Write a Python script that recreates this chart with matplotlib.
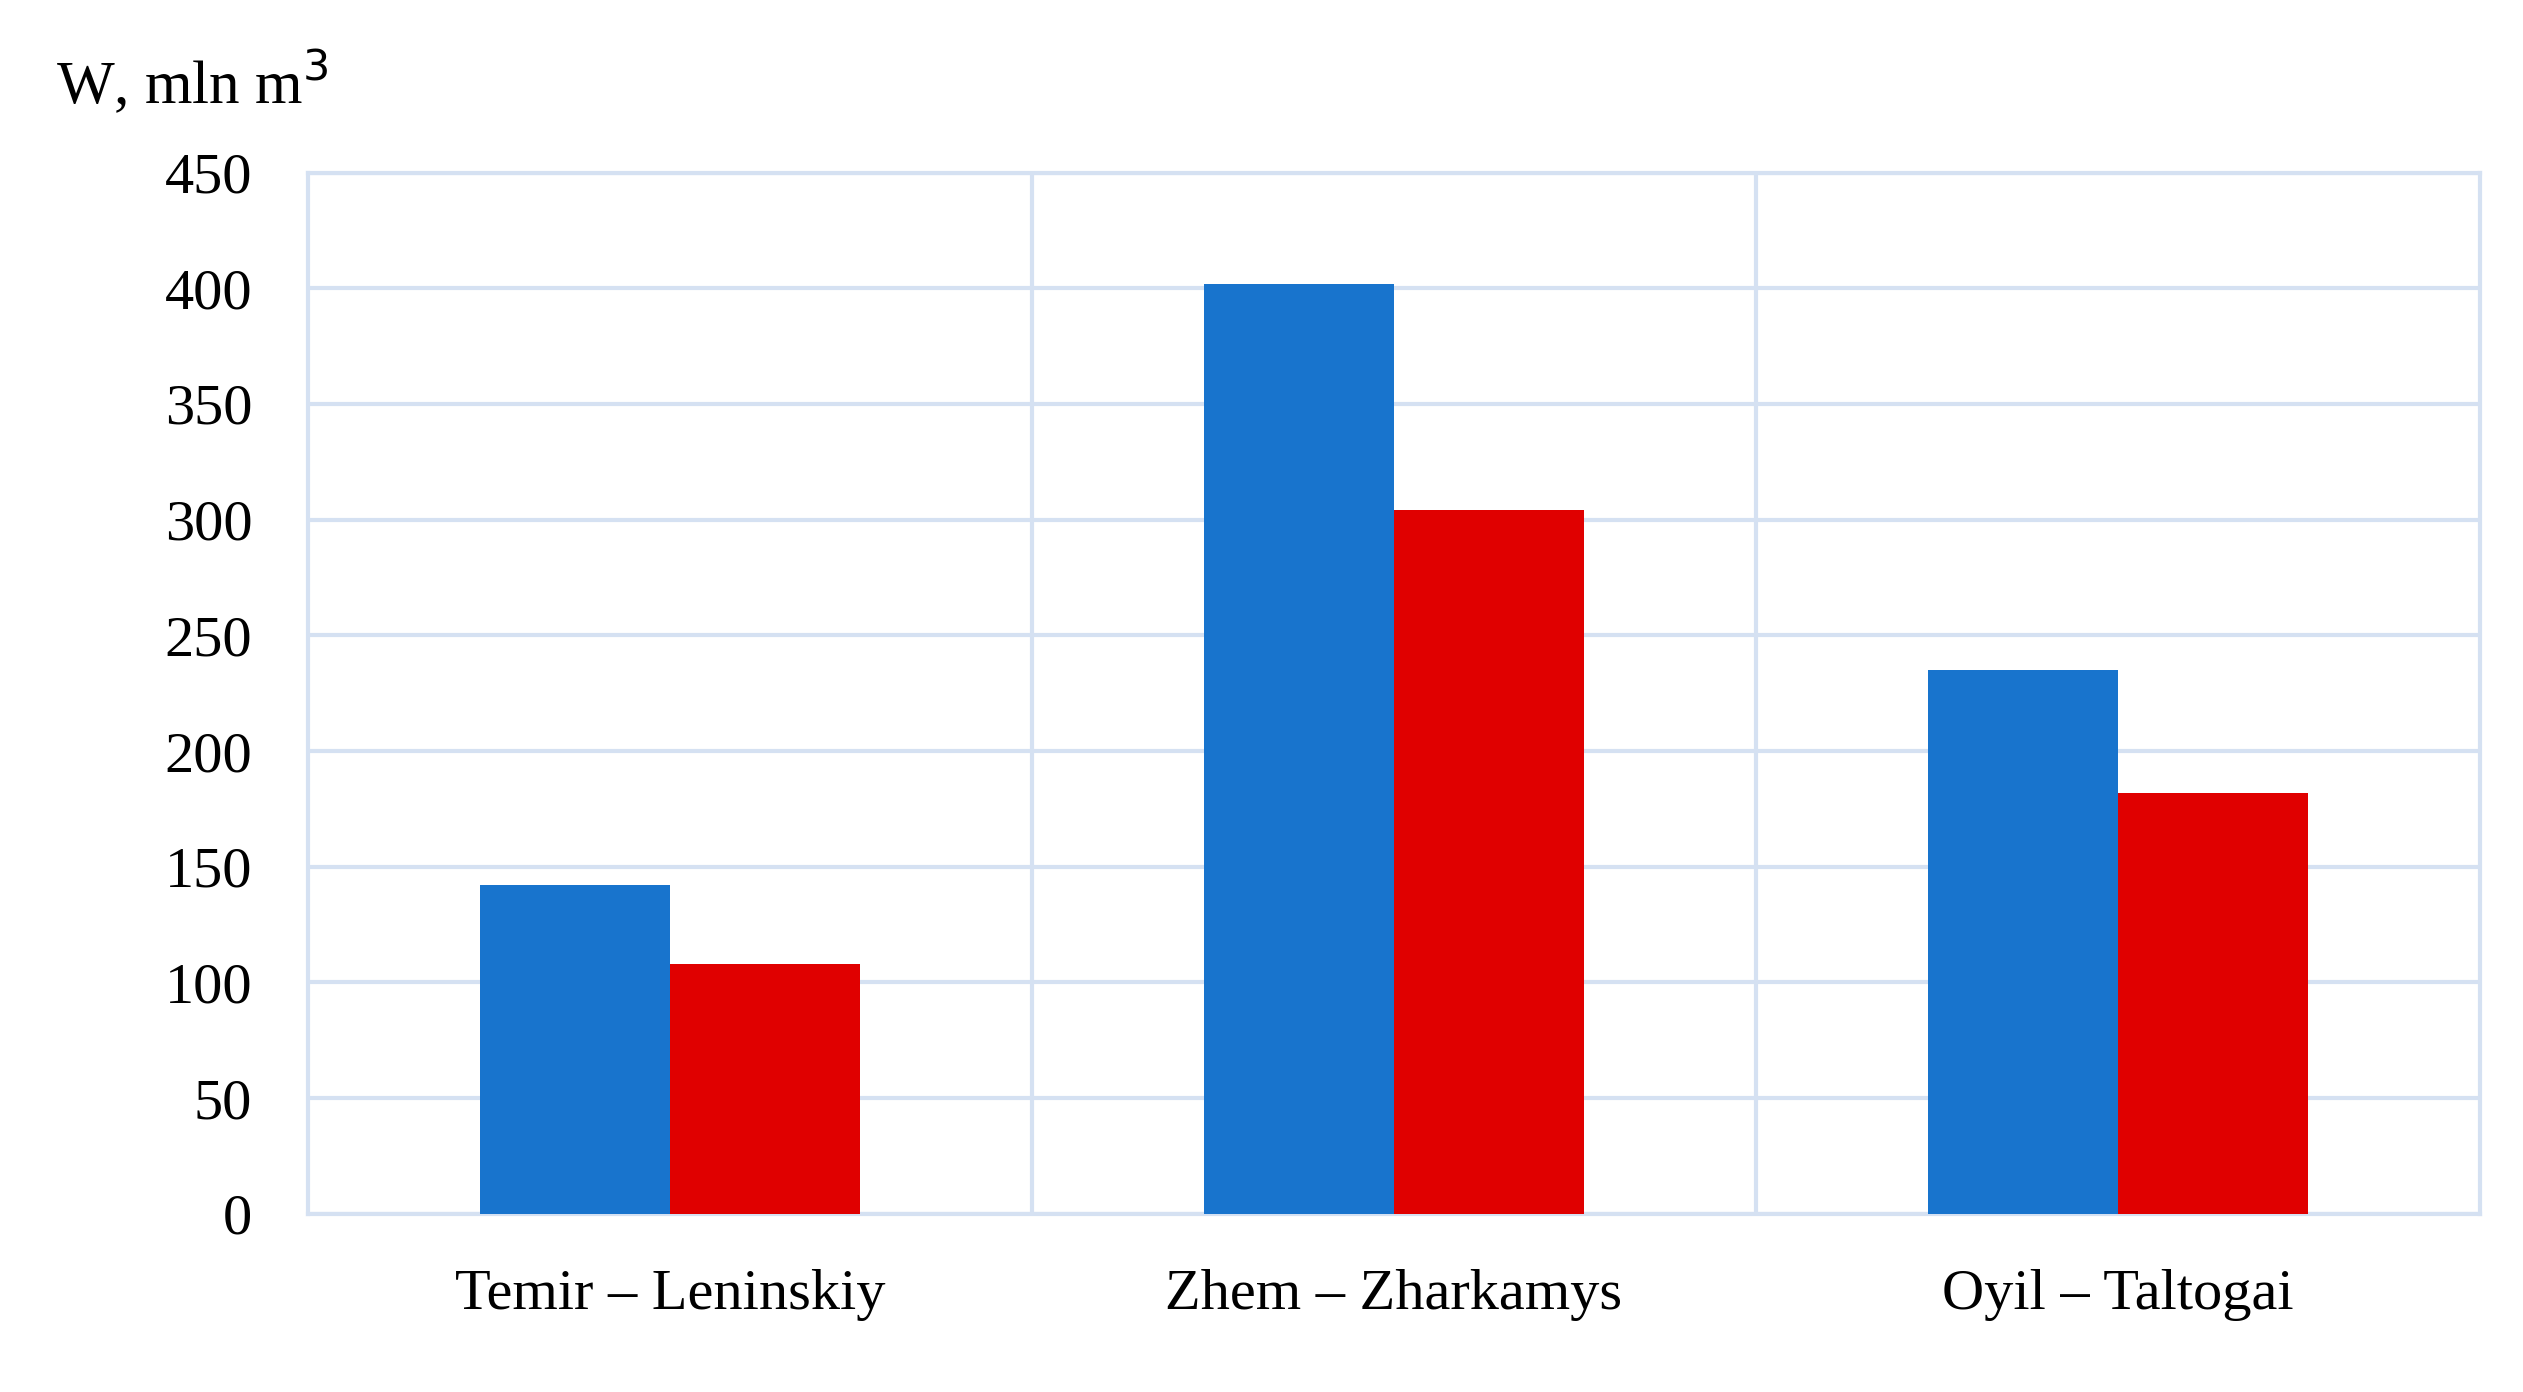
import matplotlib
matplotlib.use("Agg")
import matplotlib.pyplot as plt
import numpy as np

categories = ["Temir – Leninskiy", "Zhem – Zharkamys", "Oyil – Taltogai"]
blue_vals = [142, 402, 235]
red_vals = [108, 304, 182]
yticks = [0, 50, 100, 150, 200, 250, 300, 350, 400, 450]

plt.rcParams['font.family'] = ['Liberation Serif', 'DejaVu Serif']
fig = plt.figure(figsize=(25.23, 13.92), dpi=100)
ax = fig.add_axes([0.122, 0.128, 0.861, 0.748])
x = np.arange(len(categories))
w = 0.262
ax.bar(x - w/2, blue_vals, w, color='#1874CD', zorder=3)
ax.bar(x + w/2, red_vals, w, color='#E00000', zorder=3)
ax.set_xlim(-0.5, 2.5)
ax.set_ylim(0, 450)
ax.set_yticks(yticks)
ax.set_xticks(x)
ax.set_xticklabels(categories)
gc = '#D5E1F2'
ax.grid(axis='y', color=gc, linewidth=3, zorder=0)
for b in [0.5, 1.5]:
    ax.axvline(b, color=gc, linewidth=3, zorder=0)
for s in ax.spines.values():
    s.set_color(gc); s.set_linewidth(3)
ax.tick_params(axis='both', length=0, labelsize=42, colors='black')
ax.tick_params(axis='x', pad=40)
ax.tick_params(axis='y', pad=40)
fig.text(0.022, 0.925, "W, mln m$^3$", fontsize=44, ha='left', va='baseline')
fig.savefig("out.png", dpi=100)
